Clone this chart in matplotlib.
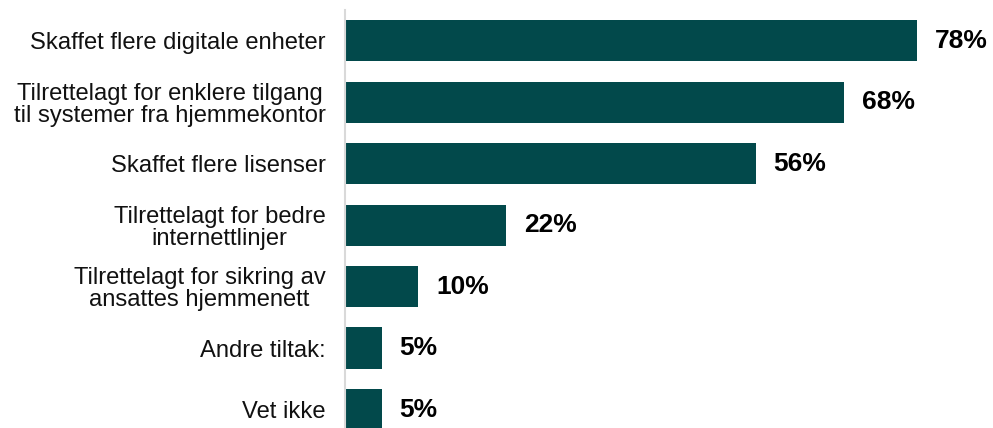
from matplotlib import pyplot as plt

plt.rcParams['font.family'] = ['Liberation Sans', 'DejaVu Sans']

labels = [
    'Skaffet flere digitale enheter',
    'Tilrettelagt for enklere tilgang\ntil systemer fra hjemmekontor',
    'Skaffet flere lisenser',
    'Tilrettelagt for bedre\ninternettlinjer',
    'Tilrettelagt for sikring av\nansattes hjemmenett',
    'Andre tiltak:',
    'Vet ikke',
]
values = [78, 68, 56, 22, 10, 5, 5]

bar_color = '#02494b'

fig = plt.figure(figsize=(9.93, 4.28), dpi=100)
ax = fig.add_axes([345 / 993, 0, 1 - 345 / 993, 1 - 10 / 428])

pos = list(range(len(values)))
ax.barh(pos, values, height=0.67, color=bar_color)

for y, v in zip(pos, values):
    ax.text(v + 2.4, y, '%d%%' % v, va='center', ha='left',
            fontsize=19, fontweight='bold', color='black')

ax.set_xlim(0, 88.3)
ax.set_ylim(6.3, -0.5)

ax.set_yticks(pos)
ax.set_yticklabels(labels, fontsize=17.1, color='#111111',
                   multialignment='center', linespacing=1.0)
ax.tick_params(axis='y', length=0, pad=14)
ax.set_xticks([])

for side in ['top', 'right', 'bottom']:
    ax.spines[side].set_visible(False)
ax.spines['left'].set_color('#d9d9d9')
ax.spines['left'].set_linewidth(1.5)

fig.savefig('out.png', dpi=100)
